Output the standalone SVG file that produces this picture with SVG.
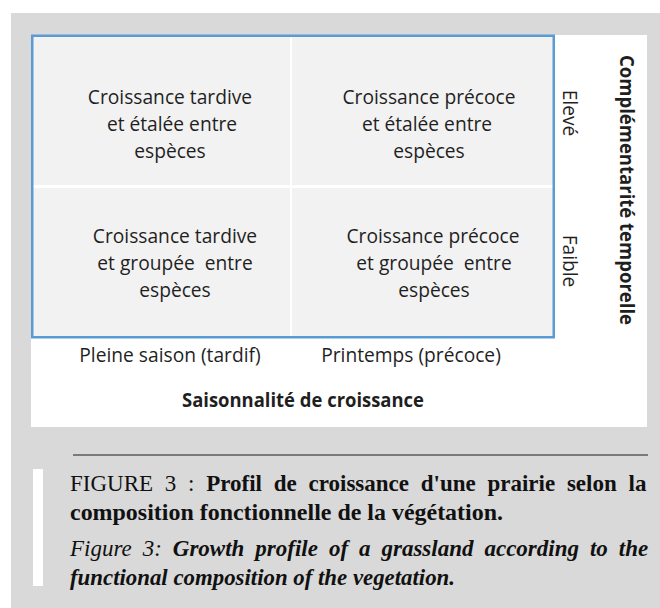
<svg xmlns="http://www.w3.org/2000/svg" width="660" height="608" viewBox="0 0 660 608">
<style>
.cell{fill:#f2f2f2}
.t{font-family:"Open Sans","Noto Sans",sans-serif;font-size:19.2px;fill:#1f1f1f;text-anchor:middle}
.b{font-weight:bold}
.cap{font-family:"Liberation Serif","DejaVu Serif",serif;font-size:23px;fill:#111}
</style>
<rect x="0" y="0" width="660" height="608" fill="#ffffff"/>
<rect x="11" y="13" width="649" height="595" fill="#d9d9d9"/>
<rect x="31" y="35" width="616" height="392" fill="#ffffff"/>
<g id="cell-tl">
<rect class="cell" x="33" y="37" width="257" height="148"/>
<text class="t"><tspan x="170" y="104">Croissance tardive</tspan><tspan x="172" y="131">et étalée entre</tspan><tspan x="170" y="158">espèces</tspan></text>
</g>
<g id="cell-tr">
<rect class="cell" x="292" y="37" width="261" height="148"/>
<text class="t"><tspan x="429" y="104">Croissance précoce</tspan><tspan x="427" y="131">et étalée entre</tspan><tspan x="429" y="158">espèces</tspan></text>
</g>
<g id="cell-bl">
<rect class="cell" x="33" y="188" width="257" height="148"/>
<text class="t"><tspan x="175" y="243">Croissance tardive</tspan><tspan x="175" y="270" xml:space="preserve">et groupée  entre</tspan><tspan x="175" y="297">espèces</tspan></text>
</g>
<g id="cell-br">
<rect class="cell" x="292" y="188" width="261" height="148"/>
<text class="t"><tspan x="433" y="243">Croissance précoce</tspan><tspan x="434" y="270" xml:space="preserve">et groupée  entre</tspan><tspan x="434" y="297">espèces</tspan></text>
</g>
<rect id="grid-border" x="32.25" y="35.75" width="521.5" height="301.5" fill="none" stroke="#5b9bd5" stroke-width="2.5"/>
<g id="connectors"></g>
<g id="axis-x">
<text class="t" x="170" y="362">Pleine saison (tardif)</text>
<text class="t" x="411" y="362">Printemps (précoce)</text>
<text class="t b" x="303" y="407" textLength="242" lengthAdjust="spacingAndGlyphs">Saisonnalité de croissance</text>
</g>
<g id="axis-y">
<text class="t" transform="translate(563,113) rotate(90)">Elevé</text>
<text class="t" transform="translate(563,261) rotate(90)">Faible</text>
<text class="t b" transform="translate(620,190) rotate(90)" textLength="270" lengthAdjust="spacingAndGlyphs">Complémentarité temporelle</text>
</g>
<g id="caption">
<line x1="73" y1="455" x2="648" y2="455" stroke="#5a5a5a" stroke-width="1.5"/>
<rect x="33" y="469" width="10" height="117" fill="#ffffff"/>
<text class="cap" x="70" y="491" word-spacing="6">FIGURE 3 : <tspan font-weight="bold">Profil de croissance d'une prairie selon la</tspan></text>
<text class="cap" x="70" y="520" font-weight="bold" textLength="433" lengthAdjust="spacingAndGlyphs">composition fonctionnelle de la végétation.</text>
<text class="cap" x="70" y="556" font-style="italic" word-spacing="5.2">Figure 3: <tspan font-weight="bold">Growth profile of a grassland according to the</tspan></text>
<text class="cap" x="70" y="585" font-style="italic" font-weight="bold" textLength="385" lengthAdjust="spacingAndGlyphs">functional composition of the vegetation.</text>
</g>
</svg>
